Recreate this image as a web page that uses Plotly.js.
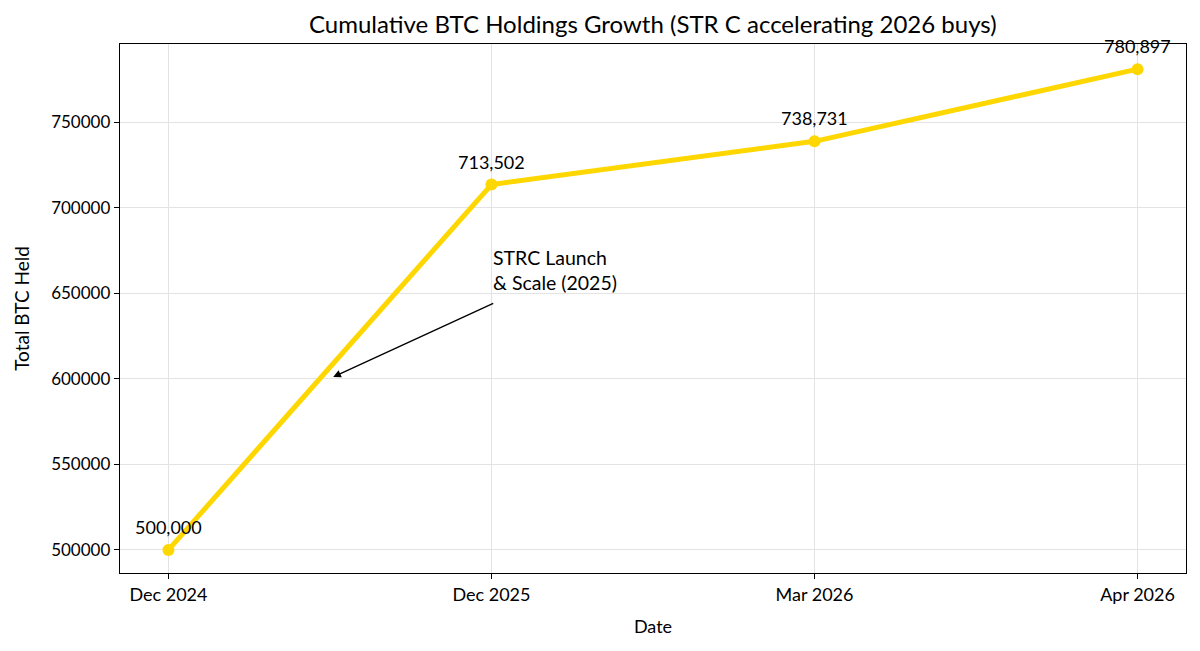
<!DOCTYPE html>
<html>
<head>
<meta charset="utf-8">
<script src="https://cdn.plot.ly/plotly-3.0.1.min.js"></script>
<style>
  html, body { margin: 0; padding: 0; background: #fff; }
  #chart { width: 1200px; height: 651px; }
</style>
</head>
<body>
<div id="chart"></div>
<script>
const dates = ["Dec 2024", "Dec 2025", "Mar 2026", "Apr 2026"];
const btcHeld = [500000, 713502, 738731, 780897];
const pointLabels = ["500,000", "713,502", "738,731", "780,897"];

const FONT = "Lato, 'Noto Sans', sans-serif";
const GOLD = "#FFD700";
const xPos = dates.map((_, i) => i);

const trace = {
  x: xPos,
  y: btcHeld,
  type: "scatter",
  mode: "lines+markers",
  line: { color: GOLD, width: 5 },
  marker: { color: GOLD, size: 12 },
  cliponaxis: false,
  hoverinfo: "skip"
};

// value labels above each point
const labelNotes = btcHeld.map((v, i) => ({
  x: xPos[i], y: v, xref: "x", yref: "y",
  text: pointLabels[i], showarrow: false,
  xanchor: "center", yanchor: "bottom", yshift: 10,
  font: { family: FONT, size: 18, color: "#000" }
}));

const layout = {
  width: 1200,
  height: 651,
  margin: { l: 120, r: 14, t: 44, b: 78 },
  paper_bgcolor: "#fff",
  plot_bgcolor: "#fff",
  font: { family: FONT, size: 16, color: "#000" },
  showlegend: false,
  title: {
    text: "Cumulative BTC Holdings Growth (STR C accelerating 2026 buys)",
    font: { family: FONT, size: 24, color: "#000" },
    x: 0.544, xanchor: "center", y: 0.962, yanchor: "middle"
  },
  xaxis: {
    range: [-0.15, 3.15],
    tickvals: xPos,
    ticktext: dates,
    showgrid: true, gridcolor: "#e3e3e3", gridwidth: 1,
    zeroline: false,
    showline: true, mirror: true, linecolor: "#000", linewidth: 1.3,
    ticks: "outside", ticklen: 5, tickcolor: "#000",
    tickfont: { family: FONT, size: 18 },
    title: { text: "Date", font: { family: FONT, size: 18 }, standoff: 16 }
  },
  yaxis: {
    range: [486500, 795600],
    tickvals: [500000, 550000, 600000, 650000, 700000, 750000],
    tickformat: "d",
    showgrid: true, gridcolor: "#e3e3e3", gridwidth: 1,
    zeroline: false,
    showline: true, mirror: true, linecolor: "#000", linewidth: 1.3,
    ticks: "outside", ticklen: 5, tickcolor: "#000",
    tickfont: { family: FONT, size: 17 },
    title: { text: "Total BTC Held", font: { family: FONT, size: 19 }, standoff: 16 }
  },
  annotations: labelNotes.concat([
    {
      x: 0.51, y: 601000, xref: "x", yref: "y",
      ax: 1.01, ay: 644500, axref: "x", ayref: "y",
      text: "", showarrow: true,
      arrowhead: 2, arrowsize: 1.1, arrowwidth: 1.4, arrowcolor: "#000"
    },
    {
      x: 1.0, y: 648500, xref: "x", yref: "y",
      xanchor: "left", yanchor: "bottom", align: "left",
      text: "STRC Launch<br>& Scale (2025)",
      showarrow: false,
      font: { family: FONT, size: 19.5, color: "#000" }
    }
  ])
};

Plotly.newPlot("chart", [trace], layout, { displayModeBar: false, staticPlot: true });
</script>
</body>
</html>
